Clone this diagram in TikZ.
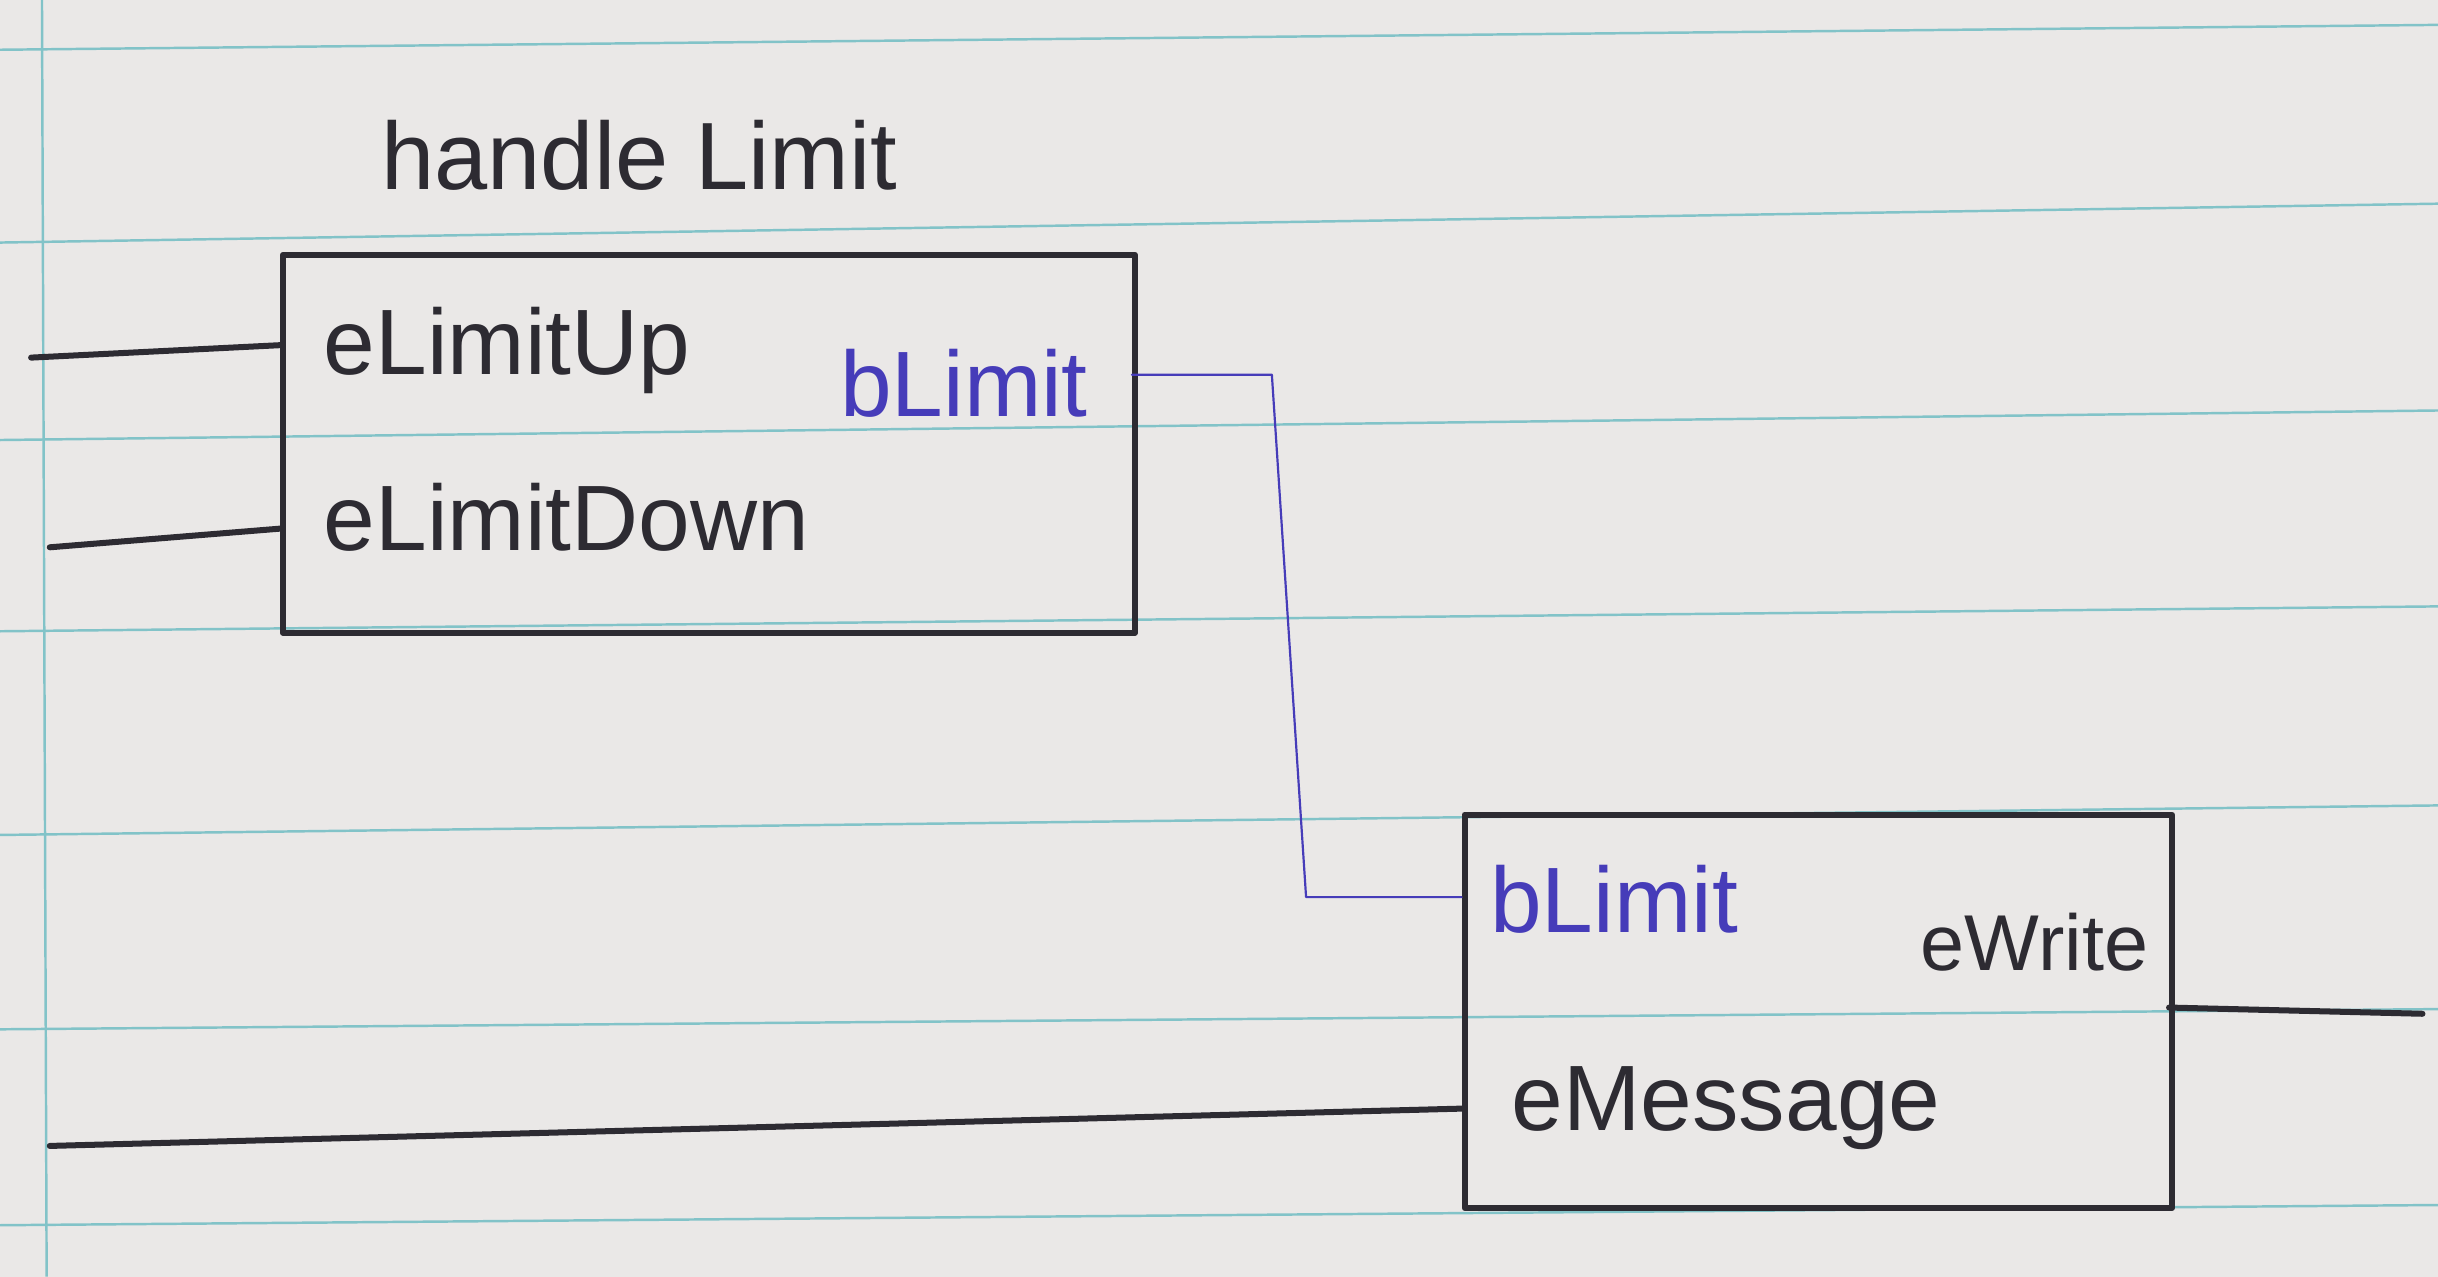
\documentclass[tikz,border=0pt]{standalone}
\usepackage{fontspec}
\setmainfont{Liberation Sans}
\begin{document}
\begin{tikzpicture}[x=0.02cm,y=-0.02cm,
  ink/.style={draw=inkc,line width=2.2pt,line cap=round,line join=round},
  bink/.style={draw=bluec,line width=0.8pt,line cap=round,line join=round},
  lbl/.style={text=inkc,font=\fontsize{34}{37}\selectfont,inner sep=0pt},
  blbl/.style={text=bluec,font=\fontsize{34}{37}\selectfont,inner sep=0pt},
  rule/.style={draw=rulec,line width=0.9pt},
  blockbox/.style={ink,rectangle,inner sep=0pt}]
\definecolor{inkc}{RGB}{45,43,50}
\definecolor{bluec}{RGB}{70,60,185}
\definecolor{rulec}{RGB}{130,195,200}
\definecolor{paperc}{RGB}{234,232,231}
\useasboundingbox (0,0) rectangle (1568,821);
\fill[paperc] (0,0) rectangle (1568,821);
% ruled paper
\foreach \a/\b in {32/16,156/131,283/264,406/390,537/518,662/649,788/775}
  \draw[rule] (0,\a) -- (1568,\b);
\draw[rule] (27,0) -- (30,821);
% title
\node[lbl,font=\fontsize{35}{38}\selectfont,anchor=base west] (title) at (245,122) {handle Limit};
% blocks
\node[blockbox,minimum width=548*0.02cm,minimum height=243*0.02cm,anchor=north west] (b1) at (180,162) {};
\node[blockbox,minimum width=455*0.02cm,minimum height=253*0.02cm,anchor=north west] (b2) at (940,522) {};
% labels in block 1
\node[lbl,anchor=base west] (lup) at (208,241) {eLimitUp};
\node[lbl,anchor=base west] (ldown) at (208,354) {eLimitDown};
\node[blbl,anchor=base east] (bout) at (700,268) {bLimit};
% labels in block 2
\node[blbl,anchor=base west] (bin) at (958,600) {bLimit};
\node[lbl,font=\fontsize{29}{32}\selectfont,anchor=base east] (wout) at (1382,624) {eWrite};
\node[lbl,anchor=base west] (min) at (972,727) {eMessage};
% ports
\coordinate (pup) at (180,222);
\coordinate (pdown) at (180,340);
\coordinate (pbout) at (728,241);
\coordinate (pbin) at (940,577);
\coordinate (pwout) at (1395,648);
\coordinate (pmin) at (940,713);
% free ends
\coordinate (fup) at (20,230);
\coordinate (fdown) at (32,352);
\coordinate (fmin) at (32,737);
\coordinate (fwout) at (1558,652);
\coordinate (k1) at (818,241);
\coordinate (k2) at (840,577);
% connectors
\draw[ink] (fup) -- (pup);
\draw[ink] (fdown) -- (pdown);
\draw[ink] (fmin) -- (pmin);
\draw[ink] (pwout) -- (fwout);
\draw[bink] (pbout) -- (k1) -- (k2) -- (pbin);
\end{tikzpicture}
\end{document}
